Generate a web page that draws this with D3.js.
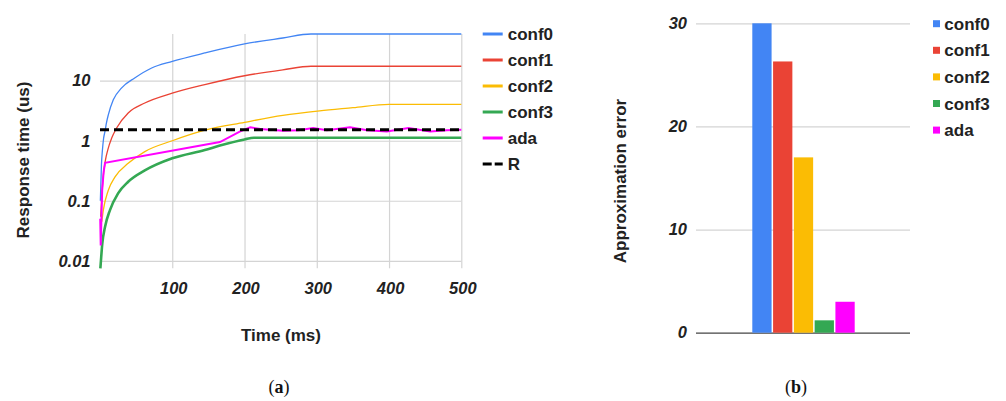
<!DOCTYPE html>
<meta charset="utf-8">
<script src="https://d3js.org/d3.v7.min.js"></script>
<style>
  body { margin: 0; background: white; }
  text { font-family: Arial, "Liberation Sans", sans-serif; fill: #222; }
  .tick text { font-weight: bold; font-style: italic; font-size: 16.5px; }
  .title { font-weight: bold; font-size: 17px; }
  .cap { font-family: "Liberation Serif", "DejaVu Serif", serif; font-size: 18px; fill: #111; }
</style>
<div id="my_dataviz"></div>
<script>
// series names + colours
var names = ["conf0", "conf1", "conf2", "conf3", "ada"];
var colors = ["#4285F4", "#EA4335", "#FBBC04", "#34A853", "#FF00FF"];

// response time (us) vs time (ms)
var conf0 = [[0.5,0.1],[2,0.4],[3.2,0.66],[5,1.1],[6.9,1.43],[9,2.0],[11.5,2.7],[18.4,4.8],[30,7.6],[48,11.1],[71.5,16.3],[100,21],[145,29],[200,41],[253,51.5],[292,60],[500,60]];
var conf1 = [[1,0.054],[4,0.22],[7.6,0.48],[10.7,0.7],[16.2,1.11],[23,1.63],[39,2.9],[62,4.25],[100,6.2],[145,8.6],[200,12.1],[253,15.2],[292,17.4],[500,17.4]];
var conf2 = [[2.5,0.045],[4.6,0.07],[11.5,0.15],[20.8,0.25],[39,0.42],[62,0.66],[100,1.0],[145,1.5],[200,2.03],[253,2.65],[304,3.15],[350,3.55],[400,4.04],[500,4.04]];
var conf3 = [[0.5,0.0075],[1,0.009],[3.2,0.0195],[7,0.037],[13.8,0.07],[25,0.133],[39,0.207],[62,0.32],[100,0.51],[145,0.7],[166,0.83],[200,1.05],[213,1.12],[500,1.12]];
var ada = [[0.3,0.05],[1,0.018],[3,0.15],[5,0.3],[7,0.43],[166,0.95],[194,1.43],[208,1.67],[222,1.57],[253,1.47],[275,1.5],[295,1.63],[314,1.5],[346,1.67],[370,1.5],[397,1.43],[427,1.63],[457,1.43],[480,1.5],[500,1.52]];
var R = 1.52;
var xTicks = [100, 200, 300, 400, 500];
var yTicks = [0.01, 0.1, 1, 10];

// approximation error per config
var errValues = [30, 26.3, 17, 1.2, 3];
var errTicks = [0, 10, 20, 30];

var svg = d3.select("#my_dataviz").append("svg")
    .attr("width", 1006).attr("height", 401);

// ---------- (a) line chart ----------
var x = d3.scaleLinear().domain([0, 500]).range([100, 461.3]);
var y = d3.scaleLog().domain([0.0075, 60]).range([268.3, 34]);

var gx = svg.append("g")
    .attr("transform", "translate(0,268.3)")
    .call(d3.axisBottom(x).tickValues(xTicks).tickSize(-(268.3 - 34)).tickPadding(13.5));
var gy = svg.append("g")
    .attr("transform", "translate(100,0)")
    .call(d3.axisLeft(y).tickValues(yTicks).tickFormat(function(d) { return d + ""; })
        .tickSize(-(461.3 - 100)).tickPadding(9.5));
[gx, gy].forEach(function(g) {
    g.select(".domain").remove();
    g.selectAll(".tick line").attr("stroke", "#d4d4d4").attr("stroke-width", 1.2);
});
gx.selectAll(".tick text").attr("dx", 1);

var line = d3.line()
    .x(function(d) { return x(d[0]); })
    .y(function(d) { return y(d[1]); })
    .curve(d3.curveMonotoneX);

var series = [conf0, conf1, conf2, conf3];
var widths = [1.3, 1.3, 1.3, 2.6];
series.forEach(function(s, i) {
    svg.append("path").datum(s)
        .attr("fill", "none").attr("stroke", colors[i])
        .attr("stroke-width", widths[i]).attr("d", line);
});
svg.append("path").datum(ada)
    .attr("fill", "none").attr("stroke", colors[4]).attr("stroke-width", 2)
    .attr("d", line.curve(d3.curveLinear));

svg.append("line")
    .attr("x1", x(0)).attr("x2", x(500)).attr("y1", y(R)).attr("y2", y(R))
    .attr("stroke", "black").attr("stroke-width", 3).attr("stroke-dasharray", "9,5");

// axis titles
svg.append("text").attr("class", "title").attr("text-anchor", "middle")
    .attr("x", 281).attr("y", 340.5).text("Time (ms)");
svg.append("text").attr("class", "title").attr("text-anchor", "middle")
    .attr("transform", "translate(29,160) rotate(-90)").text("Response time (us)");

// legend (a)
var legA = svg.append("g");
names.concat(["R"]).forEach(function(n, i) {
    var yy = 34 + i * 26;
    legA.append("line").attr("x1", 482.7).attr("x2", 502.7).attr("y1", yy).attr("y2", yy)
        .attr("stroke", i < 5 ? colors[i] : "black").attr("stroke-width", 3)
        .attr("stroke-dasharray", i < 5 ? null : "9,3");
    legA.append("text").attr("class", "title").attr("x", 507.7).attr("y", yy + 6).text(n);
});

svg.append("text").attr("class", "cap").attr("text-anchor", "middle")
    .attr("x", 279).attr("y", 393).html("(<tspan font-weight='bold'>a</tspan>)");

// ---------- (b) bar chart ----------
var yb = d3.scaleLinear().domain([0, 30]).range([332.7, 23.3]);
var xb = d3.scaleBand().domain(names).range([752.3, 854.7]).paddingInner(0.072);

var gb = svg.append("g")
    .attr("transform", "translate(696,0)")
    .call(d3.axisLeft(yb).tickValues(errTicks).tickSize(-(910 - 696)).tickPadding(9));
gb.select(".domain").remove();
gb.selectAll(".tick line")
    .attr("stroke", function(d) { return d === 0 ? "#444" : "#d4d4d4"; })
    .attr("stroke-width", 1.2);

svg.append("g").selectAll("rect")
    .data(errValues)
    .enter().append("rect")
    .attr("x", function(d, i) { return xb(names[i]); })
    .attr("width", xb.bandwidth())
    .attr("y", function(d) { return yb(d); })
    .attr("height", function(d) { return yb(0) - yb(d); })
    .attr("fill", function(d, i) { return colors[i]; });

svg.append("text").attr("class", "title").attr("text-anchor", "middle")
    .attr("transform", "translate(626,181) rotate(-90)").text("Approximation error");

var legB = svg.append("g");
names.forEach(function(n, i) {
    var yy = 23.7 + i * 26.6;
    legB.append("rect").attr("x", 933).attr("y", yy - 3.5).attr("width", 7).attr("height", 7)
        .attr("fill", colors[i]);
    legB.append("text").attr("class", "title").attr("x", 944.3).attr("y", yy + 6).text(n);
});

svg.append("text").attr("class", "cap").attr("text-anchor", "middle")
    .attr("x", 796).attr("y", 393).html("(<tspan font-weight='bold'>b</tspan>)");
</script>
